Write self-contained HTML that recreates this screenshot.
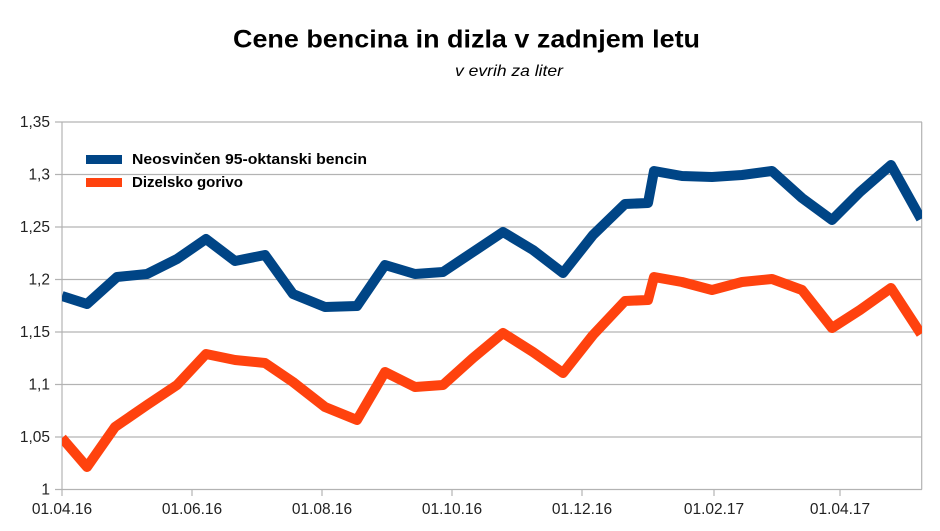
<!DOCTYPE html>
<html><head><meta charset="utf-8"><style>
html,body{margin:0;padding:0;background:#fff;}
svg{display:block;}
</style></head><body>
<svg width="940" height="531" viewBox="0 0 940 531" xmlns="http://www.w3.org/2000/svg" font-family="Liberation Sans, Arial, sans-serif">
<rect width="940" height="531" fill="#fff"/>
<text x="233" y="47.5" font-size="25" font-weight="bold" fill="#000" textLength="467" lengthAdjust="spacingAndGlyphs">Cene bencina in dizla v zadnjem letu</text>
<text x="455" y="76" font-size="16" font-style="italic" fill="#000" textLength="108" lengthAdjust="spacingAndGlyphs">v evrih za liter</text>
<g stroke="#b3b3b3" stroke-width="1.2">
<line x1="55" y1="122" x2="922" y2="122"/>
<line x1="55" y1="174.5" x2="922" y2="174.5"/>
<line x1="55" y1="227" x2="922" y2="227"/>
<line x1="55" y1="279.5" x2="922" y2="279.5"/>
<line x1="55" y1="332" x2="922" y2="332"/>
<line x1="55" y1="384.5" x2="922" y2="384.5"/>
<line x1="55" y1="437" x2="922" y2="437"/>
<line x1="55" y1="489.5" x2="922" y2="489.5"/>
<line x1="62" y1="122" x2="62" y2="496"/>
<line x1="921.7" y1="122" x2="921.7" y2="489.5"/>
<line x1="192" y1="489.5" x2="192" y2="496"/>
<line x1="322" y1="489.5" x2="322" y2="496"/>
<line x1="452" y1="489.5" x2="452" y2="496"/>
<line x1="582" y1="489.5" x2="582" y2="496"/>
<line x1="714" y1="489.5" x2="714" y2="496"/>
<line x1="840" y1="489.5" x2="840" y2="496"/>
</g>
<g font-size="15.5" fill="#222" text-anchor="end">
<text x="50" y="127">1,35</text>
<text x="50" y="179.5">1,3</text>
<text x="50" y="232">1,25</text>
<text x="50" y="284.5">1,2</text>
<text x="50" y="337">1,15</text>
<text x="50" y="389.5">1,1</text>
<text x="50" y="442">1,05</text>
<text x="50" y="494.5">1</text>
</g>
<g font-size="15.5" fill="#222" text-anchor="middle">
<text x="62" y="514">01.04.16</text>
<text x="192" y="514">01.06.16</text>
<text x="322" y="514">01.08.16</text>
<text x="452" y="514">01.10.16</text>
<text x="582" y="514">01.12.16</text>
<text x="714" y="514">01.02.17</text>
<text x="840" y="514">01.04.17</text>
</g>
<defs><clipPath id="c"><rect x="62" y="110" width="860" height="390"/></clipPath></defs>
<g clip-path="url(#c)" fill="none" stroke-width="10" stroke-linejoin="round" stroke-linecap="butt">
<polyline stroke="#004586" points="62,296 87,304 117,277 147,274 177,259 206,239 235,261 265,255 293,294 325,307 357,306 385,265 415,274 443,272 473,252 503,232 533,250 563,273 593,235 625,204 648,203 654,171 682,176 712,177 742,175 772,171 802,198 832,220 860,192 891,165 921,219"/>
<polyline stroke="#ff420e" points="62,438 87,467 115,427 147,405 177,385 206,354 235,360 265,363 293,382 325,407 357,420 385,372 415,387 443,385 473,358 503,333 533,352 563,373 593,335 625,301 648,300 654,277 682,282 712,290 742,282 772,279 802,290 832,328 860,310 891,288 921,334"/>
</g>
<rect x="86" y="155" width="36" height="9" fill="#004586"/>
<rect x="86" y="178" width="36" height="9" fill="#ff420e"/>
<g font-size="15" font-weight="bold" fill="#000">
<text x="132" y="164" textLength="235" lengthAdjust="spacingAndGlyphs">Neosvinčen 95-oktanski bencin</text>
<text x="132" y="187">Dizelsko gorivo</text>
</g>
</svg>
</body></html>
